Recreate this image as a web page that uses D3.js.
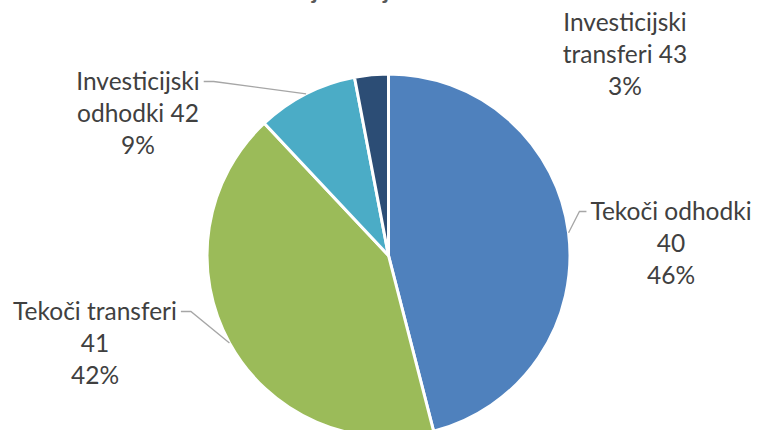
<!DOCTYPE html>
<html>
<head>
<meta charset="utf-8">
<script src="https://cdn.jsdelivr.net/npm/d3@7"></script>
<style>
  body { margin:0; background:#fff; }
  text { font-family: Lato, "Open Sans", sans-serif; fill:#404040; }
</style>
</head>
<body>
<div id="chart"></div>
<script>
const names   = ["Tekoči odhodki", "Tekoči transferi", "Investicijski odhodki", "Investicijski transferi"]
const codes   = ["40", "41", "42", "43"]
const shares  = [46, 42, 9, 3]
const colors  = ["#4F81BD", "#9BBB59", "#4BACC6", "#2C4D75"]
// label text lines as shown in the chart
const labelLines = [
  ["Tekoči odhodki", "40", "46%"],
  ["Tekoči transferi", "41", "42%"],
  ["Investicijski", "odhodki 42", "9%"],
  ["Investicijski", "transferi 43", "3%"]
]
const title = "Realizacija – veljavni"

const width = 757, height = 430
const cx = 388.5, cy = 255.5, r = 181.5

// label placement (center x, first baseline) and leader side
const labelPos = [
  {x:671, y:220, side:"left"},
  {x:95,  y:320, side:"right"},
  {x:138, y:90,  side:"right"},
  {x:625, y:31,  side:null}
]
const lineH = 32

const svg = d3.select("#chart")
  .append("svg")
    .attr("width", width)
    .attr("height", height)

// title sits above the visible area, only the descenders show
const tt = svg.append("text")
  .attr("y", -0.6)
  .style("font-size", "23px")
  .style("font-weight", "bold")
  .style("fill", "#595959")
  .text(title)
tt.attr("x", 312 - tt.node().getSubStringLength(0, title.indexOf("j")))

const data = shares.map((v,i) => ({name:names[i], code:codes[i], value:v, color:colors[i], i:i}))

const pie = d3.pie().sort(null).value(d => d.value)
const arc = d3.arc().innerRadius(0).outerRadius(r)
const edge = d3.arc().innerRadius(r).outerRadius(r)

const g = svg.append("g")
  .attr("transform","translate(" + cx + "," + cy + ")")

const arcs = pie(data)

g.selectAll("path")
  .data(arcs)
  .enter()
  .append("path")
    .attr("d", arc)
    .style("fill", d => d.data.color)
    .style("stroke", "#fff")
    .style("stroke-width", 3)
    .style("stroke-linejoin", "round")

// labels
arcs.forEach((a, i) => {
  const p = labelPos[i]
  const t = svg.append("text")
    .attr("text-anchor","middle")
    .style("font-size","24.5px")
  labelLines[i].forEach((s, k) => {
    t.append("tspan")
      .attr("x", p.x)
      .attr("y", p.y + k*lineH)
      .text(s)
  })
  if (!p.side) return
  const first = t.select("tspan").node()
  const bb = first.getBBox()
  const c = edge.centroid(a)
  const ex = cx + c[0], ey = cy + c[1]
  const ly = bb.y + bb.height/2 + 1
  let sx, kx
  if (p.side == "left") { sx = bb.x - 4; kx = sx - 7 }
  else { sx = bb.x + bb.width + 4; kx = sx + 10 }
  svg.append("polyline")
    .attr("points", [[sx,ly],[kx,ly],[ex,ey]].map(q => q.join(",")).join(" "))
    .style("fill","none")
    .style("stroke","#A6A6A6")
    .style("stroke-width",1.3)
})
</script>
</body>
</html>
